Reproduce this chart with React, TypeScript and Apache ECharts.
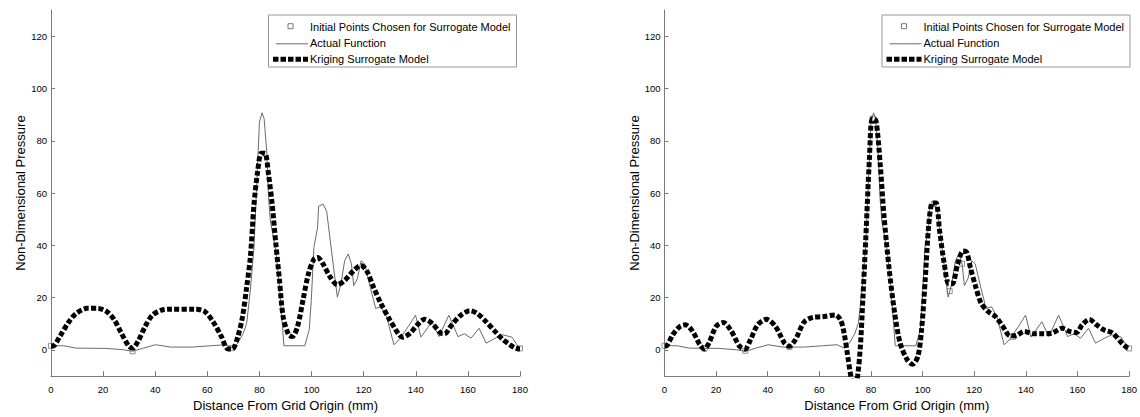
import React, { useEffect, useRef } from "react";
import * as echarts from "echarts";

const FONT = '"Liberation Sans", Arial, Helvetica, sans-serif';

const xTicks = [0, 20, 40, 60, 80, 100, 120, 140, 160, 180];
const yTicks = [0, 20, 40, 60, 80, 100, 120];

const seriesNames = [
  "Initial Points Chosen for Surrogate Model",
  "Actual Function",
  "Kriging Surrogate Model",
];
const xAxisTitle = "Distance From Grid Origin (mm)";
const yAxisTitle = "Non-Dimensional Pressure";

// Actual function (same in both panels)
const actualFunction = [
  [0, 1.6], [4.9, 1.6], [9.7, 0.7], [20.8, 0.6], [27.8, 0.1], [31.3, -0.5], [35.5, 0.7],
  [40.1, 2], [45.9, 1.1], [54.3, 1.1], [61.2, 1.6], [66.8, 2], [69.6, 0.7], [71.7, 2.6],
  [73.8, 6.4], [75.1, 10.2], [76.5, 22.8], [77.9, 39.2], [79, 64.4], [80, 87.1], [81, 90.7],
  [81.8, 88.4], [82.8, 75.8], [83.5, 58.2], [84.2, 49.3], [86.3, 38], [87.7, 24.1],
  [89.4, 1.6], [97.4, 1.6], [99.1, 7.7], [99.9, 19], [100.9, 39.2], [102.3, 46.7],
  [102.7, 54.9], [104.4, 55.8], [105.8, 53], [107.2, 41.7], [108.6, 30.4], [109.9, 20.2],
  [111.3, 25.3], [112.7, 34.1], [114.1, 36.7], [115.3, 32.9], [116.2, 24.6], [117.6, 27.3],
  [119, 34.1], [120.4, 32.9], [122.5, 24.1], [124.6, 15.9], [126.7, 16.5], [128.8, 12.7],
  [131.6, 2], [133.6, 3.9], [137.1, 8.9], [139.9, 13.3], [142, 4.9], [146.2, 10.8],
  [148.9, 5.1], [152.7, 13.3], [156.2, 5.1], [158.7, 6.2], [161.2, 4.5], [164.3, 8.3],
  [167, 2.6], [170.5, 4.5], [173.3, 5.8], [176.9, 4.9], [179.7, 0.7],
];

// Kriging surrogate, left panel
const krigingLeft = [
  [0, 1.5], [1, 1.6], [3.4, 5.2], [6.9, 10.8], [9.7, 14], [13.9, 15.9], [18, 15.9],
  [21.5, 14.6], [24.3, 11.5], [27, 6.4], [29.9, 1.4], [31.3, 0.7], [33.4, 3.3], [36.1, 8.9],
  [38.9, 13.3], [42.4, 15.2], [45.9, 15.6], [55.6, 15.6], [59.1, 14.6], [62.6, 10.2],
  [65.4, 5.1], [67.9, 0.4], [69.6, 0.4], [71.7, 5.1], [73.5, 12.7], [75.1, 24], [76.5, 35.4],
  [77.9, 55.6], [79.3, 68.2], [80.7, 75.2], [82.1, 75.2], [83.5, 67], [84.9, 55.6],
  [86.3, 40.5], [87.7, 26.6], [89.1, 12.7], [91.2, 5.8], [92.6, 5.1], [94.6, 8.9],
  [96.7, 19], [98.8, 29.1], [100.9, 34.7], [102.3, 35.4], [104.4, 32.9], [107.2, 27.8],
  [109.9, 25], [112.7, 26.6], [116.2, 30.4], [118.9, 32.3], [121.1, 30.4], [123.8, 24],
  [126.6, 17.8], [130.1, 11.4], [133.6, 5.8], [135, 4.9], [137.8, 6.4], [140.6, 9.6],
  [143.4, 11.7], [146.2, 10.2], [149.7, 6.4], [151, 6.2], [153.8, 9.6], [157.3, 13.3],
  [160.8, 15], [163.5, 14], [167, 10.8], [170.5, 7], [173.3, 4.1], [176.1, 2], [178.2, 0.7],
  [180, 0.4],
];

// Kriging surrogate, right panel
const krigingRight = [
  [0, 1.5], [0.8, 1.6], [3.2, 5.8], [6, 9], [8.1, 9.6], [10.9, 7.1], [13.7, 2], [15.4, 0.4],
  [17.2, 2.6], [20, 9], [22.8, 10.5], [25.6, 7.7], [29.1, 1.4], [31.2, 0.4], [33.3, 3.9],
  [36.1, 9.6], [39.5, 11.7], [43, 9], [46.5, 2.6], [48.4, 1.4], [50.7, 3.9], [54.2, 10.8],
  [57.7, 12.5], [61.2, 12.7], [66.1, 13.4], [68.2, 11.5], [69.6, 6.4], [71, -2.4],
  [72.2, -10], [73.5, -15], [74.8, -10], [75.9, 1.4], [76.9, 20.3], [78, 43], [79.4, 73.3],
  [80.5, 88.4], [81.9, 87.8], [83.6, 70.7], [85, 51.8], [87.1, 30.4], [89.2, 14],
  [91.3, 2.6], [94, -3.7], [96.1, -5.5], [98.2, -2.4], [99.6, 7.7], [101, 26.6],
  [102.4, 48], [103.8, 56.2], [105.2, 56.2], [106.6, 45.5], [108.4, 32.9], [110.1, 25.3],
  [111.5, 25.3], [113.6, 32.9], [115.7, 37.8], [117.1, 37.3], [118.5, 31.6], [120.6, 24.1],
  [122.7, 17.8], [125.5, 14.6], [128.3, 12.7], [131.1, 9], [133.9, 5.4], [136, 5.4],
  [139.4, 7.1], [143, 6.2], [146.5, 6.2], [150, 6.4], [154.1, 8.3], [156.9, 7.1],
  [159.7, 6.7], [161.8, 9.6], [164.6, 11.7], [167.4, 9.6], [170.2, 7.7], [173.7, 6.4],
  [177.2, 2.6], [179.3, 0.8], [180, 0.5],
];

const initialPointsLeft = [
  [0, 1.6], [31.3, -0.5], [69, 0.7], [180, 0.6],
];
const initialPointsRight = [
  [0, 1.6], [15.5, 0.5], [31.3, -0.3], [48.4, 1.1], [80.7, 88.5], [104.4, 55.8],
  [110.5, 22.5], [115.3, 33], [135, 5], [180, 0.6],
];

const AXIS_GREY = "#7a7a7a";

function panelAxes(i: number) {
  const x = {
    type: "value",
    gridIndex: i,
    min: 0,
    max: 180,
    interval: 20,
    name: xAxisTitle,
    nameLocation: "middle",
    nameGap: 20,
    nameTextStyle: { fontSize: 13, color: "#000", fontFamily: FONT },
    axisLine: { show: true, onZero: false, lineStyle: { color: AXIS_GREY, width: 1 } },
    axisTick: { show: true, inside: true, length: 5, lineStyle: { color: AXIS_GREY } },
    axisLabel: {
      color: "#000",
      fontSize: 9.5,
      fontFamily: FONT,
      margin: 8,
      customValues: xTicks,
    },
    splitLine: { show: false },
  };
  const y = {
    type: "value",
    gridIndex: i,
    min: -10,
    max: 130,
    name: yAxisTitle,
    nameLocation: "middle",
    nameGap: 23,
    nameRotate: 90,
    nameTextStyle: { fontSize: 13, color: "#000", fontFamily: FONT },
    axisLine: { show: true, onZero: false, lineStyle: { color: AXIS_GREY, width: 1 } },
    axisTick: {
      show: true,
      inside: true,
      length: 4,
      customValues: yTicks,
      lineStyle: { color: AXIS_GREY },
    },
    axisLabel: {
      color: "#000",
      fontSize: 9.5,
      fontFamily: FONT,
      margin: 4,
      customValues: yTicks,
    },
    splitLine: { show: false },
  };
  return { x, y };
}

function panelSeries(i: number, initial: number[][], kriging: number[][]) {
  return [
    {
      type: "scatter",
      name: seriesNames[0],
      xAxisIndex: i,
      yAxisIndex: i,
      data: initial,
      symbol: "rect",
      symbolSize: 5,
      itemStyle: { color: "#ffffff", borderColor: "#777", borderWidth: 1 },
      z: 2,
      silent: true,
    },
    {
      type: "line",
      name: seriesNames[1],
      xAxisIndex: i,
      yAxisIndex: i,
      data: actualFunction,
      showSymbol: false,
      symbol: "none",
      lineStyle: { color: "#6a6a6a", width: 1 },
      z: 3,
      silent: true,
    },
    {
      type: "line",
      name: seriesNames[2],
      xAxisIndex: i,
      yAxisIndex: i,
      data: kriging,
      showSymbol: false,
      symbol: "none",
      smooth: 0.3,
      lineStyle: { color: "#000", width: 5, type: [5, 2.3], cap: "butt" },
      z: 4,
      silent: true,
    },
  ];
}

function legendGraphic(ox: number) {
  const left = 268 + ox;
  const top = 14.5;
  const w = 248;
  const h = 52;
  const textX = 310 + ox;
  const rows = [26.7, 43.3, 59.3];
  const txt = (s: string, y: number) => ({
    type: "text",
    x: textX,
    y,
    style: {
      text: s,
      fill: "#000",
      fontSize: 11,
      fontFamily: FONT,
      verticalAlign: "middle",
      align: "left",
    },
    silent: true,
  });
  return {
    type: "group",
    children: [
      {
        type: "rect",
        shape: { x: left + 0.5, y: top + 0.5, width: w, height: h },
        style: { fill: "#fff", stroke: "#999", lineWidth: 1 },
        silent: true,
      },
      {
        type: "rect",
        shape: { x: 288 + ox, y: rows[0] - 3, width: 5, height: 5 },
        style: { fill: "#fff", stroke: "#777", lineWidth: 1 },
        silent: true,
      },
      {
        type: "line",
        shape: { x1: 276 + ox, y1: rows[1] + 0.5, x2: 308 + ox, y2: rows[1] + 0.5 },
        style: { stroke: "#6a6a6a", lineWidth: 1 },
        silent: true,
      },
      {
        type: "line",
        shape: { x1: 273 + ox, y1: rows[2], x2: 308 + ox, y2: rows[2] },
        style: { stroke: "#000", lineWidth: 5, lineDash: [5.5, 2], lineCap: "butt" },
        silent: true,
      },
      txt(seriesNames[0], rows[0]),
      txt(seriesNames[1], rows[1]),
      txt(seriesNames[2], rows[2]),
    ],
  };
}

export default function App() {
  const ref = useRef<HTMLDivElement>(null);
  useEffect(() => {
    if (!ref.current) return;
    const chart = echarts.init(ref.current, null, { renderer: "svg" });
    const a0 = panelAxes(0);
    const a1 = panelAxes(1);
    chart.setOption({
      animation: false,
      backgroundColor: "#fff",
      textStyle: { fontFamily: FONT },
      grid: [
        { left: 51, top: 10, width: 469, height: 370 },
        { left: 664.5, top: 10, width: 469.5, height: 370 },
      ],
      xAxis: [a0.x, a1.x],
      yAxis: [a0.y, a1.y],
      series: [
        ...panelSeries(0, initialPointsLeft, krigingLeft),
        ...panelSeries(1, initialPointsRight, krigingRight),
      ],
      graphic: [legendGraphic(0), legendGraphic(613.5)],
    });
    return () => chart.dispose();
  }, []);
  return (
    <div
      ref={ref}
      style={{ position: "absolute", left: 0, top: 0, width: 1140, height: 417, background: "#fff" }}
    />
  );
}
